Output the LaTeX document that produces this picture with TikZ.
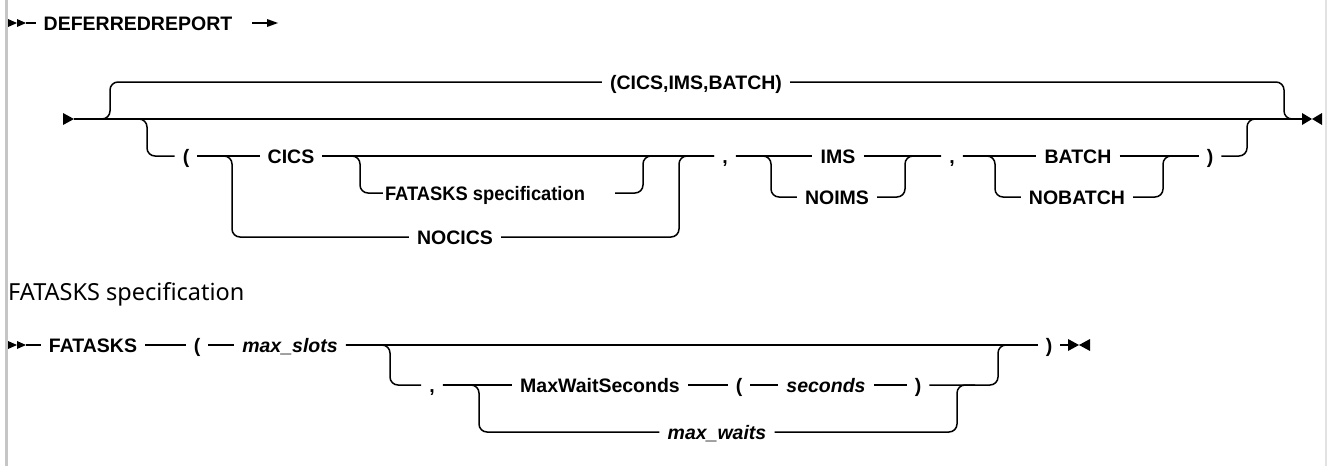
\documentclass[tikz,border=0pt]{standalone}
\usepackage{fontspec}
\setmainfont{Liberation Sans}
\newfontfamily\headfont{Noto Sans}
\definecolor{bordergray}{HTML}{C6C6C6}
\tikzset{
  rail/.style={line width=1.5pt, rounded corners=8pt},
  kw/.style={font=\bfseries\fontsize{19.5}{22}\selectfont, inner xsep=8pt, inner ysep=0pt, text height=14pt, text depth=0pt},
  var/.style={kw, font=\bfseries\itshape\fontsize{19.5}{22}\selectfont},
  tipfill/.style={fill=black},
}
\begin{document}
\begin{tikzpicture}[x=1pt,y=-1pt]
\useasboundingbox (0,0) rectangle (1327,466);
\fill[white] (0,0) rectangle (1327,466);
\fill[bordergray] (5,0) rectangle (8,466);
\fill[bordergray!50] (1324.5,0) rectangle (1327,466);

% ---------- title line ----------
\node[kw] (deferred) at (138,23) {DEFERREDREPORT};
\fill[tipfill] (8,19) -- (17,23) -- (8,27) -- cycle;
\fill[tipfill] (17,19) -- (26,23) -- (17,27) -- cycle;
\coordinate (ts) at (26,23);
\draw[rail] (ts) -- (deferred.west);
\coordinate (ta) at (252,23);
\coordinate (tb) at (268,23);
\draw[rail] (ta) -- (tb);
\fill[tipfill] (267,19) -- (278,23) -- (267,27) -- cycle;

% ---------- main diagram ----------
\coordinate (mstart) at (74,119);
\coordinate (mend) at (1302,119);
\fill[tipfill] (63,113) -- (74,119) -- (63,125) -- cycle;
\fill[tipfill] (1302,113) -- (1312,119) -- (1302,125) -- cycle;
\fill[tipfill] (1322,113) -- (1312,119) -- (1322,125) -- cycle;
\draw[rail] (mstart) -- (mend);

% default (CICS,IMS,BATCH)
\node[kw] (allopt) at (696,82) {(CICS,IMS,BATCH)};
\draw[rail] (mstart) -- (110,119) -- (110,82) -- (allopt.west);
\draw[rail] (allopt.east) -- (1284,82) -- (1284,119) -- (mend);

% explicit list
\node[kw] (lp1) at (186,156) {(};
\draw[rail] (mstart) -- (147,119) -- (147,156) -- (lp1.west);
\node[kw] (cics) at (291,156) {CICS};
\node[kw] (nocics) at (455,237) {NOCICS};
\node[kw] (c1) at (725,156) {,};
\draw[rail] (lp1.east) -- (cics.west);
\draw[rail] (lp1.east) -- (232,156) -- (232,237) -- (nocics.west);
\draw[rail] (cics.east) -- (c1.west);
\node[kw, inner xsep=2pt] (fat) at (485,193) {\scalebox{0.94}[1]{FATASKS specification}};
\draw[rail] (cics.east) -- (360,156) -- (360,193) -- (fat.west);
\coordinate (fatr) at (615,193);
\draw[rail] (fatr) -- (643,193) -- (643,156) -- (c1.west);
\draw[rail] (nocics.east) -- (679,237) -- (679,156) -- (c1.west);

\node[kw] (ims) at (838,156) {IMS};
\node[kw] (noims) at (837,197) {NOIMS};
\node[kw] (c2) at (952,156) {,};
\draw[rail] (c1.east) -- (ims.west);
\draw[rail] (c1.east) -- (771,156) -- (771,197) -- (noims.west);
\draw[rail] (ims.east) -- (c2.west);
\draw[rail] (noims.east) -- (905,197) -- (905,156) -- (c2.west);

\node[kw] (batch) at (1078,156) {BATCH};
\node[kw] (nobatch) at (1077,197) {NOBATCH};
\node[kw] (rp1) at (1210,156) {)};
\draw[rail] (c2.east) -- (batch.west);
\draw[rail] (c2.east) -- (995,156) -- (995,197) -- (nobatch.west);
\draw[rail] (batch.east) -- (rp1.west);
\draw[rail] (nobatch.east) -- (1163,197) -- (1163,156) -- (rp1.west);
\draw[rail] (rp1.east) -- (1247,156) -- (1247,119) -- (mend);

% ---------- FATASKS specification ----------
\node[anchor=base west, font=\headfont\fontsize{23.5}{28}\selectfont, inner sep=0pt] (head) at (8,300) {FATASKS specification};

\fill[tipfill] (8,341) -- (17,345) -- (8,349) -- cycle;
\fill[tipfill] (17,341) -- (26,345) -- (17,349) -- cycle;
\coordinate (fs) at (26,345);
\node[kw] (fatasks) at (93,345) {FATASKS};
\node[kw] (lp2) at (197,345) {(};
\node[var] (maxslots) at (290,345) {max\_slots};
\node[kw] (rp2) at (1049,345) {)};
\draw[rail] (fs) -- (fatasks.west);
\draw[rail] (fatasks.east) -- (lp2.west);
\draw[rail] (lp2.east) -- (maxslots.west);
\draw[rail] (maxslots.east) -- (rp2.west);

\node[kw] (c3) at (432,385) {,};
\draw[rail] (maxslots.east) -- (390,345) -- (390,385) -- (c3.west);
\node[kw] (mws) at (600,385) {MaxWaitSeconds};
\node[var] (maxwaits) at (717,432) {max\_waits};
\draw[rail] (c3.east) -- (mws.west);
\draw[rail] (c3.east) -- (479,385) -- (479,432) -- (maxwaits.west);
\node[kw] (lp3) at (739,385) {(};
\node[var] (secs) at (826,385) {seconds};
\node[kw] (rp3) at (918,385) {)};
\draw[rail] (mws.east) -- (lp3.west);
\draw[rail] (lp3.east) -- (secs.west);
\draw[rail] (secs.east) -- (rp3.west);
\coordinate (j5) at (998,385);
\coordinate (j6) at (975,385);
\draw[rail] (rp3.east) -- (j5) -- (998,345) -- (rp2.west);
\draw[rail] (maxwaits.east) -- (957,432) -- (957,385) -- (j6);

\coordinate (fe) at (1068,345);
\draw[rail] (rp2.east) -- (fe);
\fill[tipfill] (1068,339) -- (1079,345) -- (1068,351) -- cycle;
\fill[tipfill] (1090,339) -- (1079,345) -- (1090,351) -- cycle;
\end{tikzpicture}
\end{document}
